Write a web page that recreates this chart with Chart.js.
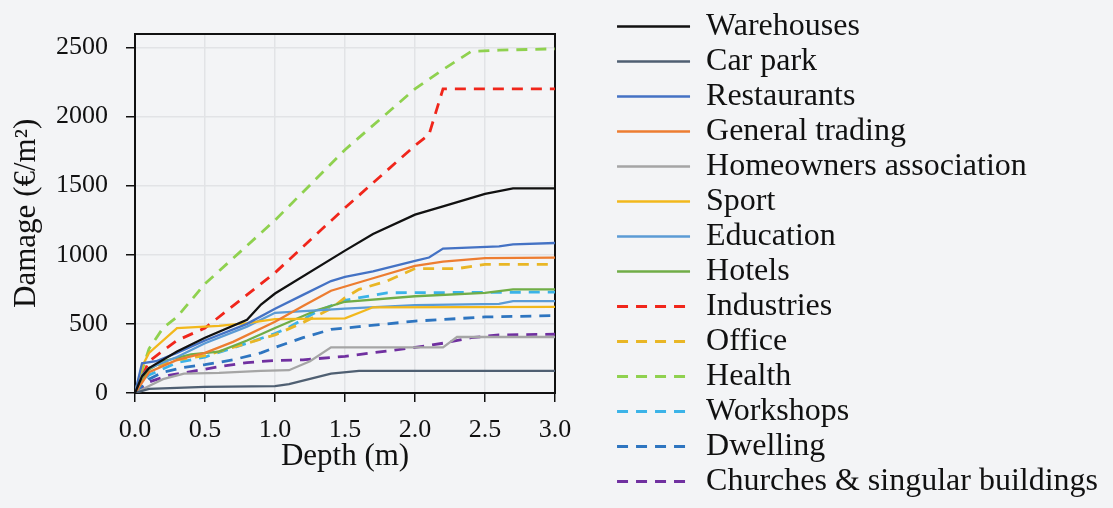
<!DOCTYPE html>
<html>
<head>
<meta charset="utf-8">
<script src="https://cdn.jsdelivr.net/npm/chart.js@4.4.1/dist/chart.umd.min.js"></script>
<style>
  html, body { margin: 0; padding: 0; background: #f3f4f6; }
  #wrap { width: 1113px; height: 508px; position: relative; }
</style>
</head>
<body>
<div id="wrap"><canvas id="c"></canvas></div>
<script>
// depth (m) vs damage (EUR/m2)
const warehouses     = [[0,0],[0.05,120],[0.1,180],[0.3,300],[0.5,400],[0.8,530],[0.9,640],[1.0,720],[1.5,1030],[1.7,1150],[2.0,1290],[2.2,1350],[2.5,1440],[2.7,1480],[3.0,1480]];
const carPark        = [[0,0],[0.1,30],[0.5,45],[1.0,50],[1.1,65],[1.4,140],[1.6,160],[3.0,160]];
const restaurants    = [[0,0],[0.05,215],[0.15,230],[0.3,290],[0.5,380],[0.8,500],[1.0,610],[1.2,710],[1.4,810],[1.5,840],[1.7,880],[2.0,955],[2.1,980],[2.2,1045],[2.6,1060],[2.7,1075],[3.0,1085]];
const generalTrading = [[0,0],[0.1,150],[0.3,240],[0.5,290],[0.7,370],[1.0,515],[1.2,630],[1.4,740],[1.7,830],[2.0,920],[2.2,950],[2.5,975],[3.0,980]];
const homeowners     = [[0,0],[0.1,50],[0.2,100],[0.35,140],[0.6,145],[0.9,160],[1.1,165],[1.25,230],[1.4,330],[2.2,330],[2.3,405],[3.0,405]];
const sport          = [[0,0],[0.05,190],[0.1,290],[0.3,470],[0.6,485],[0.8,505],[1.0,535],[1.5,540],[1.7,620],[3.0,623]];
const education      = [[0,0],[0.05,130],[0.1,180],[0.3,260],[0.5,360],[0.8,480],[1.0,580],[1.5,610],[2.0,635],[2.6,645],[2.7,665],[3.0,665]];
const hotels         = [[0,0],[0.1,170],[0.2,230],[0.4,280],[0.6,300],[0.8,380],[1.0,470],[1.3,600],[1.5,660],[2.0,700],[2.5,725],[2.7,750],[3.0,750]];
const industries     = [[0,0],[0.1,230],[0.3,380],[0.5,470],[1.0,870],[1.5,1340],[2.0,1790],[2.1,1870],[2.2,2200],[3.0,2200]];
const office         = [[0,0],[0.1,180],[0.3,240],[0.5,270],[0.8,360],[1.0,420],[1.2,510],[1.4,610],[1.5,690],[1.6,750],[1.8,810],[2.0,900],[2.3,900],[2.5,930],[3.0,930]];
const health         = [[0,0],[0.1,320],[0.2,470],[0.3,550],[0.5,790],[1.0,1250],[1.5,1760],[2.0,2200],[2.2,2340],[2.4,2470],[2.6,2480],[3.0,2490]];
const workshops      = [[0,0],[0.05,80],[0.1,130],[0.3,220],[0.5,260],[0.8,360],[1.0,430],[1.1,475],[1.3,590],[1.5,670],[1.8,725],[3.0,730]];
const dwelling       = [[0,0],[0.1,100],[0.2,150],[0.35,185],[0.5,205],[0.7,240],[0.9,290],[1.0,330],[1.2,400],[1.4,460],[1.6,480],[2.0,520],[2.5,550],[3.0,560]];
const churches       = [[0,0],[0.1,80],[0.25,130],[0.4,155],[0.6,190],[0.8,220],[1.0,235],[1.2,240],[1.5,265],[2.0,330],[2.2,360],[2.4,400],[2.6,420],[3.0,425]];

const xTicks = [0, 0.5, 1.0, 1.5, 2.0, 2.5, 3.0];
const yTicks = [0, 500, 1000, 1500, 2000, 2500];

const SERIF = "'Liberation Serif', 'DejaVu Serif', serif";
const INK = '#111111';
const GRID = '#e2e3e6';

function line(label, pts, color, dashed) {
  return {
    label,
    data: pts.map(([x, y]) => ({ x, y })),
    borderColor: color,
    backgroundColor: color,
    borderWidth: dashed ? 2.8 : 2.3,
    borderDash: dashed ? [11, 8] : [],
    pointRadius: 0,
    tension: 0,
    fill: false,
  };
}

const datasets = [
  line('Warehouses', warehouses, '#111111', false),
  line('Car park', carPark, '#4f5f72', false),
  line('Restaurants', restaurants, '#4472c4', false),
  line('General trading', generalTrading, '#ed7d31', false),
  line('Homeowners association', homeowners, '#a5a5a5', false),
  line('Sport', sport, '#f2b81c', false),
  line('Education', education, '#5b9bd5', false),
  line('Hotels', hotels, '#70ad47', false),
  line('Industries', industries, '#f0261b', true),
  line('Office', office, '#e9b625', true),
  line('Health', health, '#8fd14f', true),
  line('Workshops', workshops, '#3bb3e8', true),
  line('Dwelling', dwelling, '#2e75c0', true),
  line('Churches & singular buildings', churches, '#7030a0', true),
];

// legend swatches: short line with the dataset's own width and dash
function legendItems(chart) {
  return chart.data.datasets.map((ds, i) => ({
    text: ds.label,
    datasetIndex: i,
    strokeStyle: ds.borderColor,
    fillStyle: ds.borderColor,
    lineWidth: ds.borderWidth,
    lineDash: ds.borderDash,
    pointStyle: 'line',
    fontColor: INK,
    hidden: false,
  }));
}

Chart.defaults.font.family = SERIF;
Chart.defaults.color = INK;

new Chart(document.getElementById('c'), {
  type: 'line',
  data: { datasets },
  options: {
    responsive: true, maintainAspectRatio: false, animation: false,
    layout: { padding: { left: 0, right: 5, top: 0, bottom: 0 } },
    scales: {
      x: {
        type: 'linear', position: 'bottom', min: 0, max: 3,
        afterBuildTicks: s => { s.ticks = xTicks.map(value => ({ value })); },
        ticks: { padding: 13, font: { size: 26 }, color: INK,
                 callback: v => Number(v).toFixed(1) },
        grid: { color: GRID, lineWidth: 1.5, tickColor: INK, tickLength: 9, tickWidth: 1.5 },
        border: { color: INK, width: 2 },
        title: { display: true, text: 'Depth (m)', font: { size: 31 }, color: INK, padding: { top: 0, bottom: 33 } },
        afterFit: s => { s.height = 115; },
      },
      y: {
        type: 'linear', position: 'left', min: 0, max: 2600,
        afterBuildTicks: s => { s.ticks = yTicks.map(value => ({ value })); },
        ticks: { padding: 18, font: { size: 26 }, color: INK, callback: v => String(v) },
        grid: { color: GRID, lineWidth: 1.5, tickColor: INK, tickLength: 9, tickWidth: 1.5 },
        border: { color: INK, width: 2 },
        title: { display: true, text: 'Damage (€/m²)', font: { size: 31 }, color: INK, padding: { top: 8, bottom: 0 } },
        afterFit: s => { s.width = 135; },
      },
      // empty axes: top and right frame of the plot, plus the gap before the legend
      x2: {
        type: 'linear', position: 'top', min: 0, max: 3,
        ticks: { display: false }, grid: { display: false },
        border: { color: INK, width: 2 },
        afterFit: s => { s.height = 33; },
      },
      y2: {
        type: 'linear', position: 'right', min: 0, max: 2600,
        ticks: { display: false }, grid: { display: false },
        border: { color: INK, width: 2 },
        afterFit: s => { s.width = 59; },
      },
    },
    plugins: {
      legend: {
        position: 'right', align: 'center', maxWidth: 600,
        labels: {
          usePointStyle: true, pointStyle: 'line', pointStyleWidth: 73,
          padding: 3, color: INK, font: { size: 32 },
          generateLabels: legendItems,
        },
      },
      tooltip: { enabled: false },
    },
  },
});
</script>
</body>
</html>
